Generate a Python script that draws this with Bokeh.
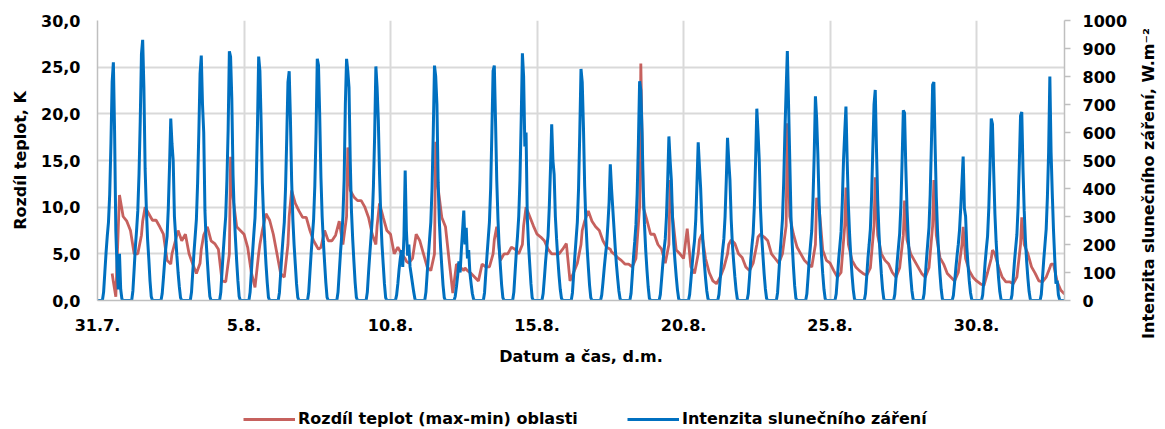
import numpy as np
from bokeh.plotting import figure
from bokeh.models import Range1d, LinearAxis, FixedTicker, Legend, LegendItem, Label
from bokeh.layouts import row, column
from bokeh.embed import file_html
from bokeh.resources import INLINE

# ---------------- data ----------------
date_ticks = [0, 5, 10, 15, 20, 25, 30]          # days after 31.7. 0:00
date_labels = ["31.7.", "5.8.", "10.8.", "15.8.", "20.8.", "25.8.", "30.8."]
left_ticks = [0, 5, 10, 15, 20, 25, 30]
left_labels = ["0,0", "5,0", "10,0", "15,0", "20,0", "25,0", "30,0"]
right_ticks = [0, 100, 200, 300, 400, 500, 600, 700, 800, 900, 1000]
n_days = 33

# solar irradiance W/m2, hourly values for hours 5..20 of each day (0 at night)
irr_hours = [5, 6, 7, 8, 9, 10, 11, 12, 13, 14, 15, 16, 17, 18, 19, 20]
irr_days = [
    [30, 100, 170, 230, 280, 380, 560, 780, 851, 600, 250, 120, 40, 167, 40, 5],    # 31.7.
    [35, 110, 190, 250, 320, 450, 640, 880, 931, 760, 470, 330, 220, 150, 70, 15],  # 1.8.
    [25, 80, 140, 190, 230, 330, 480, 650, 560, 500, 300, 230, 160, 100, 50, 10],   # 2.8.
    [30, 100, 170, 230, 290, 420, 600, 810, 875, 700, 600, 320, 210, 140, 70, 15],  # 3.8.
    [30, 105, 175, 240, 300, 430, 610, 890, 870, 720, 450, 310, 220, 140, 70, 15],  # 4.8.
    [30, 100, 170, 235, 295, 420, 620, 871, 820, 640, 420, 300, 210, 130, 65, 12],  # 5.8.
    [28, 95, 165, 225, 280, 400, 580, 780, 819, 650, 430, 290, 200, 130, 60, 12],   # 6.8.
    [30, 100, 170, 230, 290, 410, 600, 863, 840, 660, 440, 300, 210, 135, 65, 12],  # 7.8.
    [30, 100, 170, 230, 300, 430, 700, 863, 820, 760, 500, 320, 220, 140, 65, 12],  # 8.8.
    [30, 100, 165, 225, 290, 410, 590, 836, 760, 643, 450, 300, 200, 130, 60, 10],  # 9.8.
    [20, 60, 110, 150, 180, 120, 230, 464, 250, 160, 200, 120, 90, 60, 30, 5],      # 10.8.
    [30, 95, 160, 220, 280, 400, 600, 839, 800, 700, 420, 280, 190, 120, 55, 10],   # 11.8.
    [15, 50, 90, 140, 100, 180, 250, 321, 200, 260, 150, 180, 100, 60, 25, 5],      # 12.8.
    [28, 95, 160, 220, 280, 400, 600, 820, 839, 640, 430, 290, 190, 120, 55, 10],   # 13.8.
    [30, 100, 170, 230, 300, 430, 640, 883, 800, 550, 600, 300, 200, 130, 60, 10],  # 14.8.
    [25, 80, 140, 190, 230, 330, 470, 629, 500, 450, 300, 220, 150, 90, 40, 8],     # 15.8.
    [28, 95, 160, 220, 280, 400, 600, 827, 780, 620, 410, 280, 190, 120, 55, 10],   # 16.8.
    [20, 65, 115, 160, 200, 270, 350, 486, 400, 330, 260, 190, 130, 80, 35, 6],     # 17.8.
    [25, 90, 155, 210, 270, 380, 560, 783, 750, 600, 400, 270, 180, 110, 50, 8],    # 18.8.
    [22, 75, 130, 180, 220, 300, 430, 586, 500, 430, 290, 200, 140, 85, 38, 6],     # 19.8.
    [22, 72, 125, 175, 215, 290, 420, 565, 480, 400, 280, 200, 135, 80, 35, 6],     # 20.8.
    [22, 75, 130, 180, 220, 300, 430, 581, 500, 430, 290, 200, 140, 85, 38, 6],     # 21.8.
    [24, 82, 145, 195, 240, 340, 500, 685, 600, 500, 330, 230, 160, 95, 42, 7],     # 22.8.
    [28, 95, 165, 225, 290, 420, 600, 750, 891, 700, 500, 300, 200, 120, 52, 8],    # 23.8.
    [24, 85, 150, 200, 250, 360, 520, 729, 650, 520, 350, 240, 160, 95, 40, 6],     # 24.8.
    [23, 82, 145, 195, 245, 350, 500, 600, 693, 500, 340, 235, 155, 90, 38, 5],     # 25.8.
    [24, 85, 150, 200, 255, 370, 540, 700, 752, 540, 360, 245, 160, 95, 40, 5],     # 26.8.
    [22, 80, 140, 190, 240, 340, 500, 679, 670, 480, 330, 225, 150, 88, 36, 5],     # 27.8.
    [24, 85, 150, 205, 260, 380, 560, 770, 780, 560, 370, 250, 165, 95, 40, 5],     # 28.8.
    [18, 65, 115, 160, 200, 250, 330, 420, 514, 330, 300, 190, 125, 70, 28, 4],     # 29.8.
    [20, 75, 135, 185, 230, 330, 480, 650, 630, 460, 310, 210, 140, 80, 32, 4],     # 30.8.
    [20, 78, 138, 188, 235, 335, 490, 660, 673, 470, 320, 215, 140, 80, 32, 4],     # 31.8.
    [22, 82, 145, 200, 255, 370, 530, 800, 530, 380, 250, 150, 60, 71, 20, 3],      # 1.9.
]

# temperature difference (max-min) K, at these hours of each day
nan = float("nan")
temp_hours = [0, 3, 6, 9, 12, 13, 15, 18, 21]
temp_days = [
    [nan, nan, nan, nan, 2.9, 2.0, 0.4, 11.3, 9.0],   # 31.7.
    [8.5, 7.5, 5.0, 5.0, 7.0, 8.5, 10.0, 9.3, 8.6],   # 1.8.
    [8.6, 7.9, 7.1, 4.3, 3.9, 5.0, 6.0, 7.5, 6.4],    # 2.8.
    [7.1, 5.0, 3.9, 2.9, 4.0, 5.5, 7.0, 7.9, 6.4],    # 3.8.
    [6.1, 5.5, 2.1, 2.0, 5.0, 15.4, 11.0, 7.9, 7.5],  # 4.8.
    [7.1, 5.7, 3.0, 1.4, 5.0, 6.0, 7.5, 9.3, 8.6],    # 5.8.
    [7.1, 5.0, 2.9, 2.5, 6.0, 9.0, 11.8, 10.4, 9.6],  # 6.8.
    [8.9, 8.9, 7.5, 6.4, 5.7, 5.5, 5.7, 7.5, 6.4],    # 7.8.
    [6.4, 7.0, 8.5, 6.0, 9.0, 16.4, 11.8, 11.1, 10.7],# 8.8.
    [10.7, 10.0, 8.9, 7.1, 6.0, 8.0, 10.4, 8.9, 7.5], # 9.8.
    [7.1, 5.0, 5.7, 5.0, 4.5, 4.2, 4.0, 4.5, 7.1],    # 10.8.
    [6.4, 5.0, 3.6, 3.2, 5.0, 17.0, 12.0, 8.9, 7.9],  # 11.8.
    [4.3, 0.8, 3.9, 3.6, 3.2, 3.5, 3.2, 2.9, 2.5],    # 12.8.
    [2.1, 3.9, 3.6, 3.6, 5.0, 6.5, 7.9, 4.3, 5.0],    # 13.8.
    [5.0, 5.7, 5.5, 5.0, 6.0, 8.0, 10.0, 9.0, 8.0],   # 14.8.
    [7.1, 6.8, 6.4, 5.5, 5.0, 5.0, 5.0, 5.0, 5.5],    # 15.8.
    [6.1, 2.1, 3.0, 4.0, 6.0, 7.5, 8.5, 9.6, 8.5],    # 16.8.
    [7.9, 7.5, 6.4, 5.7, 5.5, 5.2, 5.0, 4.6, 4.3],    # 17.8.
    [3.9, 3.9, 3.6, 4.5, 10.0, 25.4, 10.0, 8.6, 7.1], # 18.8.
    [7.1, 6.0, 5.5, 4.0, 6.0, 12.9, 9.0, 5.4, 5.0],   # 19.8.
    [4.5, 7.7, 3.6, 2.9, 5.0, 6.5, 7.1, 4.5, 3.0],    # 20.8.
    [2.1, 1.8, 2.5, 3.5, 5.0, 6.0, 6.5, 6.1, 5.0],    # 21.8.
    [4.6, 3.6, 3.2, 4.0, 6.0, 6.8, 7.1, 6.8, 6.4],    # 22.8.
    [5.0, 4.5, 4.0, 5.0, 8.0, 19.0, 9.0, 7.1, 5.7],   # 23.8.
    [5.0, 4.3, 3.9, 3.6, 6.0, 11.0, 10.0, 5.4, 4.3],  # 24.8.
    [4.0, 3.2, 2.5, 3.0, 8.0, 12.1, 6.0, 4.3, 3.6],   # 25.8.
    [3.2, 2.9, 2.7, 3.5, 8.0, 13.2, 7.0, 5.0, 4.3],   # 26.8.
    [3.9, 3.0, 2.5, 3.5, 7.0, 10.7, 6.5, 5.0, 4.3],   # 27.8.
    [3.6, 2.9, 2.5, 3.5, 8.0, 12.9, 7.0, 4.6, 3.9],   # 28.8.
    [2.9, 2.5, 2.1, 3.0, 6.0, 7.9, 4.5, 3.2, 2.5],    # 29.8.
    [2.1, 1.8, 1.6, 3.0, 4.5, 5.4, 5.0, 3.6, 2.5],    # 30.8.
    [2.0, 2.0, 1.8, 2.5, 6.0, 8.9, 6.0, 5.0, 3.6],    # 31.8.
    [2.9, 2.1, 2.0, 2.5, 3.5, 3.9, 3.9, 2.0, 1.1],    # 1.9.
]
temp_last = 0.7   # value at the end of the series (2.9. 0:00)

series_names = ["Rozdíl teplot (max-min) oblasti", "Intenzita slunečního záření"]
right_title = "Intenzita slunečního záření, W.m⁻²"

# ---------------- build series ----------------
irr_t, irr_v = [], []
for d, vals in enumerate(irr_days):
    irr_t += [d, d + 4 / 24]
    irr_v += [0, 0]
    for h, v in zip(irr_hours, vals):
        irr_t.append(d + h / 24)
        irr_v.append(v)
    irr_t.append(d + 21 / 24)
    irr_v.append(0)
irr_t.append(n_days)
irr_v.append(0)

temp_t, temp_v = [], []
for d, vals in enumerate(temp_days):
    for h, v in zip(temp_hours, vals):
        temp_t.append(d + h / 24)
        temp_v.append(v)
temp_t.append(n_days)
temp_v.append(temp_last)

# ---------------- main figure ----------------
FONT = "DejaVu Sans"
FS = "16px"
GRID = "#D9D9D9"
AXIS = "#BFBFBF"
RED = "#C0504D"
BLUE = "#0070C0"
RED_W, BLUE_W = 2.8, 3

MAIN_H = 20 + 280 + 78        # 378
LEG_H = 51
TOTAL_H = MAIN_H + LEG_H      # 429

p = figure(frame_width=967, frame_height=280, x_range=Range1d(0, n_days), y_range=Range1d(0, 30),
           output_backend="svg", toolbar_location=None,
           min_border_left=97, min_border_right=64, min_border_top=20, min_border_bottom=78)
p.outline_line_color = None
p.background_fill_color = "white"
p.border_fill_color = "white"
p.extra_y_ranges = {"rad": Range1d(0, 1000)}

p.line(temp_t, temp_v, line_color=RED, line_width=RED_W, line_alpha=0.9)
p.line(irr_t, irr_v, line_color=BLUE, line_width=BLUE_W, y_range_name="rad")

p.xgrid.ticker = FixedTicker(ticks=date_ticks)
p.ygrid.ticker = FixedTicker(ticks=left_ticks)
for g in (p.xgrid, p.ygrid):
    g.grid_line_color = GRID
    g.grid_line_width = 2

def style_axis(ax):
    ax.axis_line_color = AXIS
    ax.axis_line_width = 1.5
    ax.minor_tick_line_color = None
    ax.major_label_text_font = FONT
    ax.major_label_text_font_size = FS
    ax.major_label_text_font_style = "bold"
    ax.major_label_text_color = "black"
    ax.axis_label_text_font = FONT
    ax.axis_label_text_font_size = FS
    ax.axis_label_text_font_style = "bold"
    ax.axis_label_text_color = "black"

xa = p.xaxis[0]
style_axis(xa)
xa.ticker = FixedTicker(ticks=date_ticks)
xa.major_label_overrides = {t: l for t, l in zip(date_ticks, date_labels)}
xa.major_tick_line_color = None
xa.major_tick_out = 0
xa.major_tick_in = 0
xa.major_label_standoff = 18
xa.axis_label = "Datum a čas, d.m."
xa.axis_label_standoff = 13

ya = p.yaxis[0]
style_axis(ya)
ya.ticker = FixedTicker(ticks=left_ticks)
ya.major_label_overrides = {t: l for t, l in zip(left_ticks, left_labels)}
ya.major_tick_line_color = None
ya.major_tick_out = 0
ya.major_tick_in = 0
ya.major_label_standoff = 17
ya.axis_label = "Rozdíl teplot, K"
ya.axis_label_standoff = 8

ra = LinearAxis(y_range_name="rad", ticker=FixedTicker(ticks=right_ticks))
style_axis(ra)
ra.major_tick_line_color = AXIS
ra.major_tick_line_width = 1.5
ra.major_tick_out = 6
ra.major_tick_in = 0
ra.major_label_standoff = 12
p.add_layout(ra, "right")

# ---------------- right title strip ----------------
pt = figure(width=30, height=TOTAL_H, output_backend="svg", toolbar_location=None,
            x_axis_type=None, y_axis_type=None, min_border=0)
pt.outline_line_color = None
pt.add_layout(Label(x=18, y=TOTAL_H - 183, x_units="screen", y_units="screen", text=right_title,
                    angle=np.pi / 2, text_align="center", text_baseline="middle",
                    text_font=FONT, text_font_size=FS, text_font_style="bold",
                    text_color="black"))

# ---------------- legend strip ----------------
pl = figure(width=1128, height=LEG_H, output_backend="svg", toolbar_location=None,
            x_axis_type=None, y_axis_type=None, min_border=0)
pl.outline_line_color = None
lr_temp = pl.line(x=[nan], y=[nan], line_color=RED, line_width=RED_W, line_alpha=0.9)
lr_irr = pl.line(x=[nan], y=[nan], line_color=BLUE, line_width=BLUE_W)

def add_legend(label, rend, loc):
    lg = Legend(items=[LegendItem(label=label, renderers=[rend])], location=loc,
                orientation="horizontal", border_line_color=None,
                background_fill_alpha=0, padding=0, margin=0,
                glyph_width=52, glyph_height=16, label_standoff=3,
                label_text_font=FONT, label_text_font_size=FS,
                label_text_font_style="bold", label_text_color="black")
    pl.add_layout(lg)

add_legend(series_names[0], lr_temp, (146, 1))
add_legend(series_names[1], lr_irr, (530, 1))

layout = row(column(p, pl, spacing=0), pt, spacing=0)
open("out.html", "w").write(file_html(layout, INLINE))
